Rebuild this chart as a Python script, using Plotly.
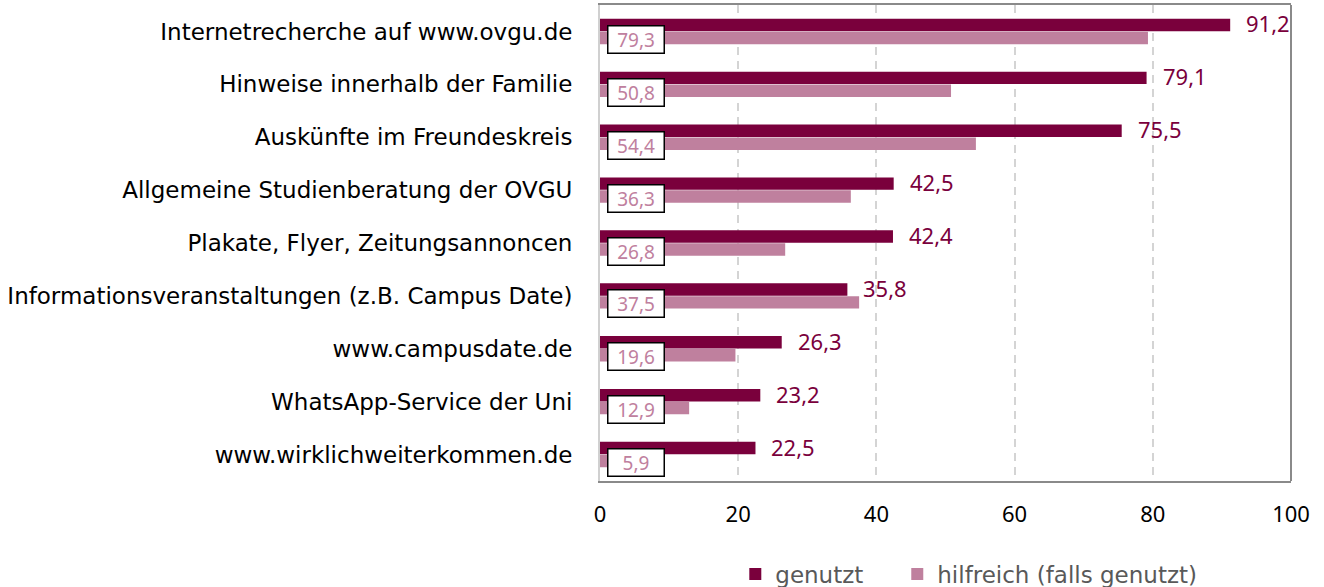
import plotly.graph_objects as go

categories = [
    "Internetrecherche auf www.ovgu.de",
    "Hinweise innerhalb der Familie",
    "Auskünfte im Freundeskreis",
    "Allgemeine Studienberatung der OVGU",
    "Plakate, Flyer, Zeitungsannoncen",
    "Informationsveranstaltungen (z.B. Campus Date)",
    "www.campusdate.de",
    "WhatsApp-Service der Uni",
    "www.wirklichweiterkommen.de",
]
genutzt = [91.2, 79.1, 75.5, 42.5, 42.4, 35.8, 26.3, 23.2, 22.5]
hilfreich = [79.3, 50.8, 54.4, 36.3, 26.8, 37.5, 19.6, 12.9, 5.9]
xticks = [0, 20, 40, 60, 80, 100]

DARK = "#7a003c"
LIGHT = "#bf809e"
CAT_FONT = "DejaVu Sans"
NUM_FONT = "Noto Sans"

def de(v):
    return f"{v:.1f}".replace(".", ",")

fig = go.Figure()
fig.add_trace(go.Bar(
    y=categories, x=genutzt, orientation="h", name="genutzt",
    marker=dict(color=DARK, line=dict(width=0)), legend="legend",
))
fig.add_trace(go.Bar(
    y=categories, x=hilfreich, orientation="h", name="hilfreich (falls genutzt)",
    marker=dict(color=LIGHT, line=dict(width=0)), legend="legend2",
))

annotations = []
for c, g, h in zip(categories, genutzt, hilfreich):
    annotations.append(dict(
        x=g, y=c, xref="x", yref="y", text=de(g), showarrow=False,
        xanchor="left", yanchor="middle", xshift=14, yshift=8,
        font=dict(family=NUM_FONT, size=22, color=DARK),
    ))
    annotations.append(dict(
        x=0, y=c, xref="x", yref="y", text=de(h), showarrow=False,
        xanchor="left", yanchor="middle", xshift=7, yshift=-8,
        width=55, height=26, align="center", valign="middle",
        bgcolor="white", bordercolor="black", borderwidth=1.5, borderpad=0,
        font=dict(family=NUM_FONT, size=19, color=LIGHT),
    ))

legend_common = dict(
    orientation="h", xanchor="left",
    yref="container", y=0.022, yanchor="middle",
    font=dict(family=CAT_FONT, size=23, color="#595959"),
    itemwidth=30, bgcolor="rgba(0,0,0,0)",
)

fig.update_layout(
    width=1324, height=587,
    margin=dict(l=600, r=33, t=5, b=106, autoexpand=False),
    paper_bgcolor="white", plot_bgcolor="white",
    barmode="group", bargap=0.51, bargroupgap=0.04,
    showlegend=True,
    legend=dict(x=0.1958, **legend_common),
    legend2=dict(x=0.4302, **legend_common),
    annotations=annotations,
    shapes=[dict(type="line", xref="paper", yref="paper", x0=1, x1=1, y0=0, y1=1,
                 line=dict(color="#8a8a8a", width=2))],
    font=dict(family=CAT_FONT, color="black"),
)
fig.update_xaxes(
    range=[0, 100], tickvals=xticks, ticktext=[str(t) for t in xticks],
    showgrid=True, gridcolor="#d4d4d4", griddash="8px,6px", gridwidth=1.5,
    zeroline=False, showline=True, linecolor="#8a8a8a", linewidth=2, mirror=True,
    ticks="", tickfont=dict(family=NUM_FONT, size=22, color="black"),
    ticklabelstandoff=13, automargin=False,
)
fig.update_yaxes(
    autorange="reversed", showgrid=False, zeroline=False,
    showline=True, linecolor="#d0d0d0", linewidth=2, mirror=False,
    ticks="", tickfont=dict(family=CAT_FONT, size=23, color="black"),
    ticklabelstandoff=21, automargin=False,
)
fig.write_html(
    "out.html",
    config={"displayModeBar": False},
    post_script="document.body.style.margin='0';document.body.style.padding='0';",
)
